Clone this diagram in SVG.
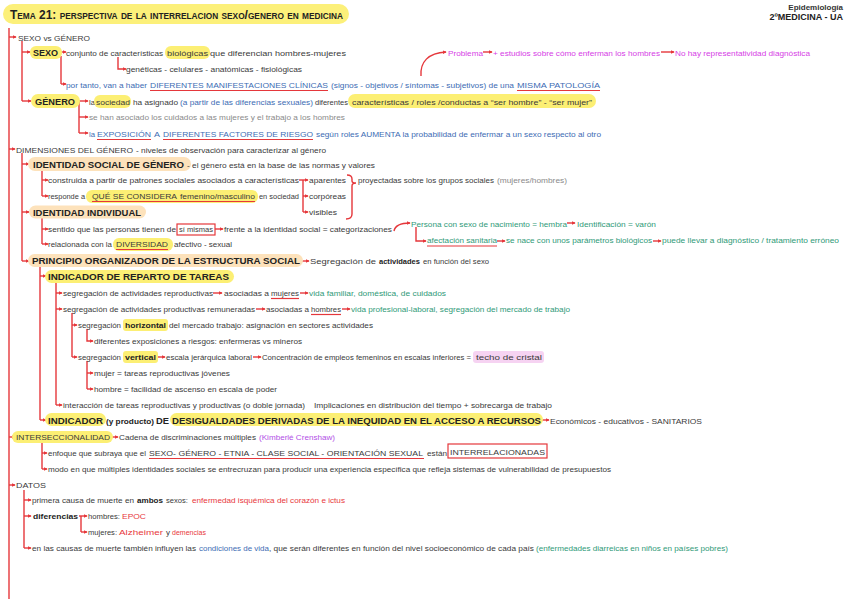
<svg xmlns="http://www.w3.org/2000/svg" width="848" height="599" viewBox="0 0 848 599">
<style>
text{font-family:"Liberation Sans",Arial,sans-serif;font-size:7.8px;fill:#3a3a3a}
.b{font-weight:bold;font-size:9px;fill:#222}
.bs{font-weight:bold;fill:#222}
.blue{fill:#3d6cb4}
.green{fill:#2f9a78}
.mag{fill:#d640e6}
.pur{fill:#b24fe6}
.red{fill:#e8383d}
.grey{fill:#8a8a8a}
.hl{fill:#fcef74}
.pe{fill:#fde2bb}
.pk{fill:#f6d3f2}
.c{stroke:#e5373b;stroke-width:1.4;fill:none}
.a{stroke:#e5373b;stroke-width:1.4;fill:none;marker-end:url(#ar)}
.u{stroke:#e5373b;stroke-width:1.2}
.box{stroke:#e5373b;stroke-width:1.2;fill:none}
</style>
<defs>
<marker id="ar" viewBox="0 0 6 6" refX="5" refY="3" markerWidth="4" markerHeight="4" markerUnits="userSpaceOnUse" orient="auto"><path d="M0,0 L6,3 L0,6 z" fill="#e5373b"/></marker>
</defs>
<rect width="848" height="599" fill="#fff"/>

<g id="title">
<rect x="3" y="4" width="346" height="20" rx="10" fill="#fcf07a"/>
<text x="10" y="18.5" style="font-weight:bold;font-size:13px;font-variant:small-caps;fill:#222" textLength="333" lengthAdjust="spacingAndGlyphs">Tema 21: perspectiva de la interrelacion sexo/genero en medicina</text>
</g>
<g id="header">
<text x="843" y="9.5" text-anchor="end" style="font-size:8px;font-weight:bold;fill:#333">Epidemiología</text>
<text x="843" y="19.5" text-anchor="end" style="font-size:9px;font-weight:bold;fill:#222">2ºMEDICINA - UA</text>
</g>

<g id="connectors">
<path class="c" d="M9,28 V599"/>
<path class="a" d="M9,37 H16"/>
<path class="a" d="M9,149 H15"/>
<path class="a" d="M9,437 H15"/>
<path class="a" d="M9,485 H15"/>
<path class="c" d="M22,41 V101"/>
<path class="a" d="M22,52 H30"/>
<path class="a" d="M22,101 H31"/>
<path class="a" d="M61,52 H66"/>
<path class="c" d="M61,56 V84"/>
<path class="a" d="M61,84 H66"/>
<path class="a" d="M118,57 V69 H126"/>
<path class="a" d="M79,101 H88"/>
<path class="c" d="M79,101 V133"/>
<path class="a" d="M79,117 H88"/>
<path class="a" d="M79,133 H88"/>
<path class="c" d="M22,153 V261"/>
<path class="a" d="M22,164 H29"/>
<path class="a" d="M22,212 H29"/>
<path class="a" d="M22,261 H29"/>
<path class="c" d="M42,170 V196"/>
<path class="a" d="M42,180 H48"/>
<path class="a" d="M42,196 H48"/>
<path class="a" d="M299,180 H308"/>
<path class="c" d="M303,180 V212"/>
<path class="a" d="M303,196 H308"/>
<path class="a" d="M303,212 H308"/>
<path class="c" d="M347,175 Q352,175 352,179 L352,181 Q352,183 356,183 Q352,183 352,186 L352,214 Q352,219 346,219"/>
<path class="c" d="M42,218 V244"/>
<path class="a" d="M42,229 H48"/>
<path class="a" d="M42,244 H48"/>
<path class="a" d="M215,229 H223"/>
<path class="a" d="M394,231 C395,226 400,223 410,223"/>
<path class="a" d="M416,227 V241 H426"/>
<path class="a" d="M567,223 H575"/>
<path class="a" d="M497,241 H505"/>
<path class="a" d="M653,241 H661"/>
<path class="a" d="M301,261 H309"/>
<path class="c" d="M40,266 V420"/>
<path class="a" d="M40,276 H46"/>
<path class="a" d="M40,420 H46"/>
<path class="c" d="M56,282 V405"/>
<path class="a" d="M56,293 H62"/>
<path class="a" d="M56,309 H62"/>
<path class="a" d="M56,405 H62"/>
<path class="a" d="M213,293 H222"/>
<path class="a" d="M300,293 H308"/>
<path class="a" d="M256,309 H265"/>
<path class="a" d="M342,309 H350"/>
<path class="c" d="M72,313 V357"/>
<path class="a" d="M72,325 H77"/>
<path class="a" d="M72,357 H77"/>
<path class="a" d="M87,329 V341 H93"/>
<path class="c" d="M87,361 V389"/>
<path class="a" d="M87,373 H93"/>
<path class="a" d="M87,389 H93"/>
<path class="a" d="M157,357 H165"/>
<path class="a" d="M253,357 H261"/>
<path class="a" d="M541,420 H549"/>
<path class="a" d="M110,437 H118"/>
<path class="c" d="M42,442 V469"/>
<path class="a" d="M42,453 H47"/>
<path class="a" d="M42,469 H47"/>
<path class="c" d="M24,490 V548"/>
<path class="a" d="M24,500 H31"/>
<path class="a" d="M24,516 H31"/>
<path class="a" d="M24,548 H31"/>
<path class="a" d="M79,516 H87"/>
<path class="c" d="M81,516 V532"/>
<path class="a" d="M81,532 H87"/>
<path class="a" d="M421,76 C420,62 428,53 446,52"/>
<path class="a" d="M483,52 H492"/>
<path class="a" d="M661,52 H674"/>
</g>

<g id="n-sexo-vs-genero">
<text x="18" y="40.5" textLength="72" lengthAdjust="spacingAndGlyphs">SEXO vs GÉNERO</text>
</g>

<g id="n-sexo">
<rect class="hl" x="30" y="46" width="32" height="13" rx="6"/>
<text class="b" x="33" y="56" textLength="25" lengthAdjust="spacingAndGlyphs">SEXO</text>
<text x="66" y="55.5" textLength="97" lengthAdjust="spacingAndGlyphs">conjunto de características</text>
<rect class="hl" x="165" y="46" width="45" height="13" rx="6"/>
<text x="167" y="55.5" textLength="41" lengthAdjust="spacingAndGlyphs">biológicas</text>
<text x="210" y="55.5" textLength="136" lengthAdjust="spacingAndGlyphs">que diferencian hombres-mujeres</text>
</g>

<g id="n-geneticas">
<text x="126" y="72" textLength="176" lengthAdjust="spacingAndGlyphs">genéticas - celulares - anatómicas - fisiológicas</text>
</g>

<g id="n-manifestaciones">
<text class="blue" x="66" y="87.5" textLength="81" lengthAdjust="spacingAndGlyphs">por tanto, van a haber</text>
<text class="blue" x="150" y="87.5" textLength="178" lengthAdjust="spacingAndGlyphs">DIFERENTES MANIFESTACIONES CLÍNICAS</text>
<text class="blue" x="331" y="87.5" textLength="183" lengthAdjust="spacingAndGlyphs">(signos - objetivos / síntomas - subjetivos) de una</text>
<text class="blue" x="517" y="87.5" textLength="83" lengthAdjust="spacingAndGlyphs">MISMA PATOLOGÍA</text>
<path class="u" d="M150,90.5 H328 M517,90.5 H600"/>
</g>

<g id="n-problema">
<text class="mag" x="448" y="55.5" textLength="35" lengthAdjust="spacingAndGlyphs">Problema</text>
<text class="mag" x="493" y="55.5" textLength="167" lengthAdjust="spacingAndGlyphs">+ estudios sobre cómo enferman los hombres</text>
<text class="mag" x="675" y="55.5" textLength="135" lengthAdjust="spacingAndGlyphs">No hay representatividad diagnóstica</text>
</g>

<g id="n-genero">
<rect class="hl" x="31" y="94" width="49" height="14" rx="7"/>
<text class="b" x="35" y="104.5" textLength="40" lengthAdjust="spacingAndGlyphs">GÉNERO</text>
<text x="89" y="104.5" textLength="6" lengthAdjust="spacingAndGlyphs">la</text>
<rect class="hl" x="94" y="95" width="37" height="13" rx="6"/>
<text x="96" y="104.5" textLength="34" lengthAdjust="spacingAndGlyphs">sociedad</text>
<text x="133" y="104.5" textLength="45" lengthAdjust="spacingAndGlyphs">ha asignado</text>
<text class="blue" x="180" y="104.5" textLength="133" lengthAdjust="spacingAndGlyphs">(a partir de las diferencias sexuales)</text>
<text x="315" y="104.5" textLength="33" lengthAdjust="spacingAndGlyphs">diferentes</text>
<rect class="hl" x="348" y="94" width="248" height="14" rx="7"/>
<text x="352" y="104.5" textLength="240" lengthAdjust="spacingAndGlyphs">características / roles /conductas a “ser hombre” - “ser mujer”</text>
</g>

<g id="n-cuidados">
<text class="grey" x="89" y="120" textLength="256" lengthAdjust="spacingAndGlyphs">se han asociado los cuidados a las mujeres y el trabajo a los hombres</text>
</g>

<g id="n-exposicion">
<text class="blue" x="89" y="136.5" textLength="6" lengthAdjust="spacingAndGlyphs">la</text>
<text class="blue" x="97" y="136.5" textLength="54" lengthAdjust="spacingAndGlyphs">EXPOSICIÓN</text>
<text class="blue" x="154" y="136.5" textLength="6" lengthAdjust="spacingAndGlyphs">A</text>
<text class="blue" x="163" y="136.5" textLength="150" lengthAdjust="spacingAndGlyphs">DIFERENTES FACTORES DE RIESGO</text>
<text class="blue" x="316" y="136.5" textLength="285" lengthAdjust="spacingAndGlyphs">según roles AUMENTA la probabilidad de enfermar a un sexo respecto al otro</text>
<path class="u" d="M97,139.5 H151 M163,139.5 H313"/>
</g>

<g id="n-dimensiones">
<text x="16" y="152.5" textLength="117" lengthAdjust="spacingAndGlyphs">DIMENSIONES DEL GÉNERO</text>
<text x="136" y="152.5" textLength="190" lengthAdjust="spacingAndGlyphs">- niveles de observación para caracterizar al género</text>
</g>

<g id="n-identidad-social">
<rect class="pe" x="28" y="157" width="163" height="14" rx="7"/>
<text class="b" x="33" y="167.5" textLength="151" lengthAdjust="spacingAndGlyphs">IDENTIDAD SOCIAL DE GÉNERO</text>
<text x="187" y="167.5" textLength="188" lengthAdjust="spacingAndGlyphs">- el género está en la base de las normas y valores</text>
</g>

<g id="n-construida">
<text x="48" y="183" textLength="251" lengthAdjust="spacingAndGlyphs">construida a partir de patrones sociales asociados a características</text>
</g>
<g id="n-aparentes"><text x="309" y="183" textLength="37" lengthAdjust="spacingAndGlyphs">aparentes</text></g>
<g id="n-corporeas"><text x="309" y="199" textLength="37" lengthAdjust="spacingAndGlyphs">corpóreas</text></g>
<g id="n-visibles"><text x="309" y="215" textLength="28" lengthAdjust="spacingAndGlyphs">visibles</text></g>
<g id="n-proyectadas">
<text x="358" y="182.5" textLength="136" lengthAdjust="spacingAndGlyphs">proyectadas sobre los grupos sociales</text>
<text class="grey" x="497" y="182.5" textLength="70" lengthAdjust="spacingAndGlyphs">(mujeres/hombres)</text>
</g>

<g id="n-responde">
<text x="48" y="199" textLength="37" lengthAdjust="spacingAndGlyphs">responde a</text>
<rect class="hl" x="86" y="190" width="172" height="13" rx="6"/>
<text x="92" y="199" textLength="85" lengthAdjust="spacingAndGlyphs">QUÉ SE CONSIDERA</text>
<text x="180" y="199" textLength="75" lengthAdjust="spacingAndGlyphs">femenino/masculino</text>
<text x="259" y="199" textLength="40" lengthAdjust="spacingAndGlyphs">en sociedad</text>
<path class="u" d="M92,201.5 H255"/>
</g>

<g id="n-identidad-individual">
<rect class="pe" x="29" y="205.5" width="117" height="13" rx="6.5"/>
<text class="b" x="33" y="215.5" textLength="108" lengthAdjust="spacingAndGlyphs">IDENTIDAD INDIVIDUAL</text>
</g>

<g id="n-sentido">
<text x="48" y="232" textLength="128" lengthAdjust="spacingAndGlyphs">sentido que las personas tienen de</text>
<rect class="box" x="177" y="224" width="38" height="11"/>
<text x="179" y="232" textLength="34" lengthAdjust="spacingAndGlyphs">sí mismas</text>
<text x="224" y="232" textLength="168" lengthAdjust="spacingAndGlyphs">frente a la identidad social = categorizaciones</text>
</g>

<g id="n-persona">
<text class="green" x="411" y="226.5" textLength="156" lengthAdjust="spacingAndGlyphs">Persona con sexo de nacimiento = hembra</text>
<text class="green" x="577" y="226.5" textLength="79" lengthAdjust="spacingAndGlyphs">Identificación = varón</text>
</g>

<g id="n-afectacion">
<text class="green" x="427" y="243" textLength="70" lengthAdjust="spacingAndGlyphs">afectación sanitaria</text>
<text class="green" x="506" y="243" textLength="146" lengthAdjust="spacingAndGlyphs">se nace con unos parámetros biológicos</text>
<text class="green" x="662" y="243" textLength="177" lengthAdjust="spacingAndGlyphs">puede llevar a diagnóstico / tratamiento erróneo</text>
<path class="u" d="M427,246 H497"/>
</g>

<g id="n-diversidad">
<text x="48" y="247" textLength="64" lengthAdjust="spacingAndGlyphs">relacionada con la</text>
<rect class="hl" x="113" y="238" width="60" height="13" rx="6"/>
<text x="116" y="247" textLength="52" lengthAdjust="spacingAndGlyphs">DIVERSIDAD</text>
<path class="u" d="M116,249.5 H168"/>
<text x="174" y="247" textLength="58" lengthAdjust="spacingAndGlyphs">afectivo - sexual</text>
</g>

<g id="n-principio">
<rect class="pe" x="28" y="254" width="275" height="13" rx="6.5"/>
<text class="b" x="32" y="264" textLength="268" lengthAdjust="spacingAndGlyphs">PRINCIPIO ORGANIZADOR DE LA ESTRUCTURA SOCIAL</text>
<text x="310" y="264" textLength="66" lengthAdjust="spacingAndGlyphs">Segregación de</text>
<text class="bs" x="379" y="264" textLength="41" lengthAdjust="spacingAndGlyphs">actividades</text>
<text x="423" y="264" textLength="66" lengthAdjust="spacingAndGlyphs">en función del sexo</text>
</g>

<g id="n-reparto">
<rect class="hl" x="45" y="270" width="189" height="13" rx="6.5"/>
<text class="b" x="48" y="280" textLength="181" lengthAdjust="spacingAndGlyphs">INDICADOR DE REPARTO DE TAREAS</text>
</g>

<g id="n-reproductivas">
<text x="63" y="296" textLength="150" lengthAdjust="spacingAndGlyphs">segregación de actividades reproductivas</text>
<text x="224" y="296" textLength="45" lengthAdjust="spacingAndGlyphs">asociadas a</text>
<text x="271" y="296" textLength="28" lengthAdjust="spacingAndGlyphs">mujeres</text>
<path class="u" d="M271,298.5 H299"/>
<text class="green" x="309" y="296" textLength="137" lengthAdjust="spacingAndGlyphs">vida familiar, doméstica, de cuidados</text>
</g>

<g id="n-productivas">
<text x="63" y="312" textLength="192" lengthAdjust="spacingAndGlyphs">segregación de actividades productivas remuneradas</text>
<text x="266" y="312" textLength="43" lengthAdjust="spacingAndGlyphs">asociadas a</text>
<text x="311" y="312" textLength="30" lengthAdjust="spacingAndGlyphs">hombres</text>
<path class="u" d="M311,314.5 H341"/>
<text class="green" x="351" y="312" textLength="219" lengthAdjust="spacingAndGlyphs">vida profesional-laboral, segregación del mercado de trabajo</text>
</g>

<g id="n-horizontal">
<text x="78" y="328" textLength="43" lengthAdjust="spacingAndGlyphs">segregación</text>
<rect class="hl" x="123" y="319" width="45" height="12" rx="3"/>
<text class="bs" x="125" y="328" textLength="41" lengthAdjust="spacingAndGlyphs">horizontal</text>
<text x="169" y="328" textLength="204" lengthAdjust="spacingAndGlyphs">del mercado trabajo: asignación en sectores actividades</text>
</g>

<g id="n-exposiciones">
<text x="94" y="344" textLength="208" lengthAdjust="spacingAndGlyphs">diferentes exposiciones a riesgos: enfermeras vs mineros</text>
</g>

<g id="n-vertical">
<text x="78" y="360" textLength="43" lengthAdjust="spacingAndGlyphs">segregación</text>
<rect class="hl" x="123" y="351" width="35" height="12" rx="3"/>
<text class="bs" x="125" y="360" textLength="31" lengthAdjust="spacingAndGlyphs">vertical</text>
<text x="166" y="360" textLength="86" lengthAdjust="spacingAndGlyphs">escala jerárquica laboral</text>
<text x="262" y="360" textLength="209" lengthAdjust="spacingAndGlyphs">Concentración de empleos femeninos en escalas inferiores =</text>
<rect class="pk" x="473" y="351" width="71" height="12" rx="3"/>
<text x="476" y="360" textLength="66" lengthAdjust="spacingAndGlyphs">techo de cristal</text>
</g>

<g id="n-mujer"><text x="94" y="376" textLength="136" lengthAdjust="spacingAndGlyphs">mujer = tareas reproductivas jóvenes</text></g>
<g id="n-hombre"><text x="94" y="392" textLength="183" lengthAdjust="spacingAndGlyphs">hombre = facilidad de ascenso en escala de poder</text></g>

<g id="n-interaccion">
<text x="63" y="408" textLength="242" lengthAdjust="spacingAndGlyphs">interacción de tareas reproductivas y productivas (o doble jornada)</text>
<text x="314" y="408" textLength="238" lengthAdjust="spacingAndGlyphs">Implicaciones en distribución del tiempo + sobrecarga de trabajo</text>
</g>

<g id="n-indicador-desigualdades">
<rect class="hl" x="45" y="413" width="61" height="13" rx="6.5"/>
<rect class="hl" x="170" y="413" width="373" height="13" rx="6.5"/>
<text class="b" x="48" y="423.5" textLength="55" lengthAdjust="spacingAndGlyphs">INDICADOR</text>
<text class="bs" x="106" y="423.5" textLength="48" lengthAdjust="spacingAndGlyphs">(y producto)</text>
<text class="b" x="156" y="423.5" textLength="13" lengthAdjust="spacingAndGlyphs">DE</text>
<text class="b" x="172" y="423.5" textLength="369" lengthAdjust="spacingAndGlyphs">DESIGUALDADES DERIVADAS DE LA INEQUIDAD EN EL ACCESO A RECURSOS</text>
<text x="550" y="423.5" textLength="152" lengthAdjust="spacingAndGlyphs">Económicos - educativos - SANITARIOS</text>
</g>

<g id="n-interseccionalidad">
<rect class="hl" x="12" y="431" width="101" height="12" rx="6"/>
<text x="16" y="440" textLength="94" lengthAdjust="spacingAndGlyphs">INTERSECCIONALIDAD</text>
<text x="119" y="440" textLength="137" lengthAdjust="spacingAndGlyphs">Cadena de discriminaciones múltiples</text>
<text class="pur" x="259" y="440" textLength="76" lengthAdjust="spacingAndGlyphs">(Kimberlé Crenshaw)</text>
</g>

<g id="n-enfoque">
<text x="48" y="456" textLength="98" lengthAdjust="spacingAndGlyphs">enfoque que subraya que el</text>
<text x="149" y="456" textLength="274" lengthAdjust="spacingAndGlyphs">SEXO- GÉNERO - ETNIA - CLASE SOCIAL - ORIENTACIÓN SEXUAL</text>
<path class="u" d="M149,458.5 H424"/>
<text x="427" y="456" textLength="20" lengthAdjust="spacingAndGlyphs">están</text>
<rect class="box" x="448" y="444" width="99" height="14"/>
<text x="450" y="455" textLength="95" lengthAdjust="spacingAndGlyphs">INTERRELACIONADAS</text>
</g>

<g id="n-modo">
<text x="48" y="472" textLength="563" lengthAdjust="spacingAndGlyphs">modo en que múltiples identidades sociales se entrecruzan para producir una experiencia específica que refleja sistemas de vulnerabilidad de presupuestos</text>
</g>

<g id="n-datos"><text x="16" y="488" textLength="30" lengthAdjust="spacingAndGlyphs">DATOS</text></g>

<g id="n-primera">
<text x="32" y="503" textLength="102" lengthAdjust="spacingAndGlyphs">primera causa de muerte en</text>
<text class="bs" x="137" y="503" textLength="26" lengthAdjust="spacingAndGlyphs">ambos</text>
<text x="166" y="503" textLength="22" lengthAdjust="spacingAndGlyphs">sexos:</text>
<text class="red" x="192" y="503" textLength="153" lengthAdjust="spacingAndGlyphs">enfermedad isquémica del corazón e ictus</text>
</g>

<g id="n-diferencias">
<text class="bs" x="33" y="519" textLength="45" lengthAdjust="spacingAndGlyphs">diferencias</text>
</g>
<g id="n-hombres-epoc">
<text x="88" y="519" textLength="32" lengthAdjust="spacingAndGlyphs">hombres:</text>
<text class="red" x="122" y="519" textLength="24" lengthAdjust="spacingAndGlyphs">EPOC</text>
</g>
<g id="n-mujeres-alzheimer">
<text x="88" y="535" textLength="29" lengthAdjust="spacingAndGlyphs">mujeres:</text>
<text class="red" x="119" y="535" textLength="44" lengthAdjust="spacingAndGlyphs">Alzheimer</text>
<text x="166" y="535" textLength="4" lengthAdjust="spacingAndGlyphs">y</text>
<text class="red" x="172" y="535" textLength="34" lengthAdjust="spacingAndGlyphs">demencias</text>
</g>

<g id="n-causas">
<text x="32" y="551" textLength="164" lengthAdjust="spacingAndGlyphs">en las causas de muerte también influyen las</text>
<text class="blue" x="199" y="551" textLength="70" lengthAdjust="spacingAndGlyphs">condiciones de vida</text>
<text x="269" y="551" textLength="265" lengthAdjust="spacingAndGlyphs">, que serán diferentes en función del nivel socioeconómico de cada país</text>
<text class="green" x="536" y="551" textLength="192" lengthAdjust="spacingAndGlyphs">(enfermedades diarreicas en niños en países pobres)</text>
</g>
</svg>
